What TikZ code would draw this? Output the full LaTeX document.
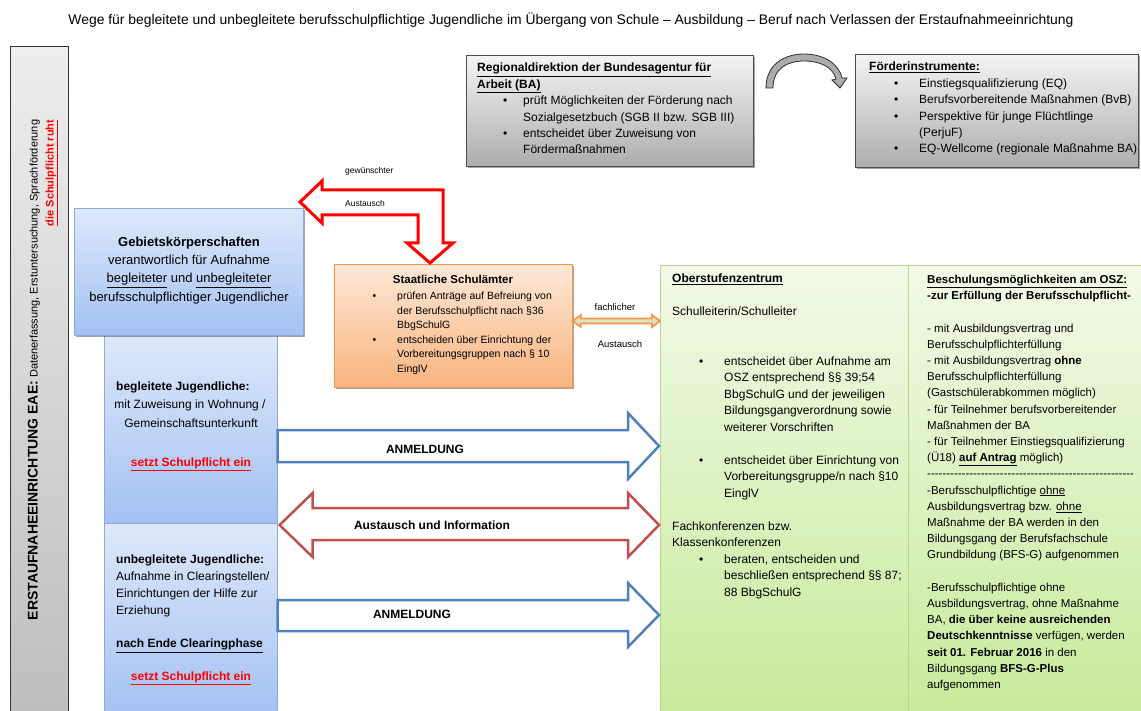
\documentclass[tikz,border=0pt]{standalone}
\usepackage{fontspec}
\setmainfont{Liberation Sans}
\usetikzlibrary{shadows,calc}
\definecolor{bartop}{HTML}{EEEEEE}
\definecolor{barbot}{HTML}{BDBDBD}
\definecolor{graytop}{HTML}{F4F4F4}
\definecolor{graybot}{HTML}{ADADAD}
\definecolor{bluetop}{HTML}{DEE8FA}
\definecolor{bluebot}{HTML}{A3C1F3}
\definecolor{blueline}{HTML}{8DA9D6}
\definecolor{orgtop}{HTML}{FDE8D7}
\definecolor{orgbot}{HTML}{F9B47F}
\definecolor{orgline}{HTML}{F79646}
\definecolor{grntop}{HTML}{F1FAE7}
\definecolor{grnbot}{HTML}{C8EA9A}
\definecolor{grnline}{HTML}{B9D48F}
\definecolor{arrblue}{HTML}{4F81BD}
\definecolor{arrred}{HTML}{C0504D}
\definecolor{brightred}{HTML}{FF0000}
\definecolor{shaftgrn}{HTML}{D7E4BD}
\newcommand\bulit[2][21]{\hspace*{#2pt}\llap{\textbullet\hspace{#1pt}}}
\newcommand\indt[1]{\hspace*{#1pt}}
\newcount\hycnt
\newcommand\hyline[1]{\hycnt=#1\relax\loop\mbox{-}\advance\hycnt by -1\relax\ifnum\hycnt>0 \repeat}
\begin{document}
\begin{tikzpicture}[x=1pt,y=-1pt,
  txt/.style={inner sep=0pt, align=left},
  boxbase/.style={anchor=north west, inner sep=0pt},
  shad/.style={drop shadow={shadow xshift=2pt,shadow yshift=-2pt,opacity=0.35,fill=black}},
  graybox/.style={boxbase, shad, draw=black!70, line width=0.8pt, top color=graytop, bottom color=graybot},
  bluebox/.style={boxbase, draw=blueline, line width=0.6pt, top color=bluetop, bottom color=bluebot},
  orgbox/.style={boxbase, shad, draw=orgline, line width=0.8pt, top color=orgtop, bottom color=orgbot},
  grnbox/.style={boxbase, draw=grnline, line width=0.8pt, top color=grntop, bottom color=grnbot},
  blockblue/.style={draw=arrblue, line width=2.5pt, fill=white, line join=miter},
  blockred/.style={draw=arrred, line width=2.5pt, fill=white, line join=miter},
  bentred/.style={draw=brightred, line width=3pt, fill=white, line join=miter},
  lbl/.style={inner sep=0pt, font=\fontsize{12}{14}\selectfont\bfseries},
  small/.style={inner sep=0pt, font=\fontsize{8.5}{10}\selectfont},
  smallb/.style={inner sep=0pt, font=\fontsize{9.5}{11}\selectfont},
]
\useasboundingbox (0,0) rectangle (1141,711);
\clip (0,0) rectangle (1141,711);
\fill[white] (0,0) rectangle (1141,711);

% title
\node[inner sep=0pt, font=\fontsize{13.9}{16}\selectfont] (title) at (571,20) {Wege für begleitete und unbegleitete berufsschulpflichtige Jugendliche im Übergang von Schule – Ausbildung – Beruf nach Verlassen der Erstaufnahmeeinrichtung};

% left bar
\node[boxbase, draw=black!80, line width=0.8pt, top color=bartop, bottom color=barbot, minimum width=58, minimum height=680] (eae) at (10,46) {};
\node[rotate=90, align=right, inner sep=0pt, font=\fontsize{11}{16}\selectfont] (eaetxt) at (43,370)
  {{\fontsize{14}{16}\selectfont\bfseries ERSTAUFNAHEEINRICHTUNG EAE:} Datenerfassung, Erstuntersuchung, Sprachförderung\\
   {\bfseries\color{brightred}\underline{die Schulpflicht ruht}}};

% top gray boxes
\node[graybox, minimum width=287, minimum height=111] (ba) at (466,55) {};
\node[txt, anchor=north west, font=\fontsize{12}{16.4}\selectfont] (batxt) at (477,63)
  {\textbf{\underline{Regionaldirektion der Bundesagentur für}}\\
   \textbf{\underline{Arbeit (BA)}}\\
   \bulit[16]{46}prüft Möglichkeiten der Förderung nach\\
   \indt{46}Sozialgesetzbuch (SGB II bzw. SGB III)\\
   \bulit[16]{46}entscheidet über Zuweisung von\\
   \indt{46}Fördermaßnahmen};

\node[graybox, minimum width=283, minimum height=113] (foerder) at (855,54) {};
\node[txt, anchor=north west, font=\fontsize{12}{16.4}\selectfont] (foetxt) at (869,62)
  {\textbf{\underline{Förderinstrumente:}}\\
   \bulit{50}Einstiegsqualifizierung (EQ)\\
   \bulit{50}Berufsvorbereitende Maßnahmen (BvB)\\
   \bulit{50}Perspektive für junge Flüchtlinge\\
   \indt{50}(PerjuF)\\
   \bulit{50}EQ-Wellcome (regionale Maßnahme BA)};

% curved gray arrow
\draw[fill=gray!65, draw=gray!35!black, line width=0.8pt, line join=miter]
  (766,88) .. controls (766,64) and (785,54) .. (804,54)
  .. controls (824,54) and (839,64) .. (842,78)
  -- (847,78) -- (840,88) -- (832,80) -- (836,79)
  .. controls (833,67) and (820,61) .. (804,61)
  .. controls (788,61) and (773,68) .. (773,88) -- cycle;

% left column cells
\node[bluebox, minimum width=173, minimum height=188] (beg) at (104,335) {};
\node[bluebox, minimum width=173, minimum height=195] (unbeg) at (104,523) {};

% Gebietskoerperschaften
\node[bluebox, shad, line width=0.8pt, minimum width=229, minimum height=127] (geb) at (74,208) {};
\node[inner sep=0pt, align=center, anchor=north, font=\fontsize{13}{18.3}\selectfont] (gebtxt) at (189,236.5)
  {\textbf{Gebietskörperschaften}\\verantwortlich für Aufnahme\\\underline{begleiteter} und \underline{unbegleiteter}\\berufsschulpflichtiger Jugendlicher};

% column texts
\node[inner sep=0pt, anchor=base west, font=\fontsize{12}{14}\selectfont\bfseries] (begt1) at (116,390.6) {begleitete Jugendliche:};
\node[inner sep=0pt, anchor=base, font=\fontsize{12}{14}\selectfont] (begt2) at (190,408.6) {mit Zuweisung in Wohnung /};
\node[inner sep=0pt, anchor=base, font=\fontsize{12}{14}\selectfont] (begt3) at (191,427.6) {Gemeinschaftsunterkunft};
\node[inner sep=0pt, anchor=base, font=\fontsize{12}{14}\selectfont\bfseries, text=brightred] (begt4) at (191,466.6) {\underline{setzt Schulpflicht ein}};

\node[txt, anchor=north west, font=\fontsize{12}{16.8}\selectfont] (unbegt1) at (116,555)
  {\textbf{unbegleitete Jugendliche:}\\Aufnahme in Clearingstellen/\\Einrichtungen der Hilfe zur\\Erziehung\\[16.8pt]
   \textbf{\underline{nach Ende Clearingphase}}};
\node[inner sep=0pt, anchor=base, font=\fontsize{12}{14}\selectfont\bfseries, text=brightred] (unbegt2) at (191,680.6) {\underline{setzt Schulpflicht ein}};

% Schulaemter
\node[orgbox, minimum width=238, minimum height=123] (schul) at (334,264) {};
\node[inner sep=0pt, anchor=base, font=\fontsize{11.5}{14}\selectfont\bfseries] (schult) at (453,284) {Staatliche Schulämter};
\node[txt, anchor=north west, font=\fontsize{10.5}{14.5}\selectfont] (schulb) at (397,292)
  {\bulit{0}prüfen Anträge auf Befreiung von\\der Berufsschulpflicht nach §36\\BbgSchulG\\
   \bulit{0}entscheiden über Einrichtung der\\Vorbereitungsgruppen nach § 10\\EinglV};

% green boxes
\node[grnbox, minimum width=248, minimum height=455] (osz) at (660,265) {};
\node[grnbox, minimum width=240, minimum height=455] (besch) at (908,265) {};

\node[txt, anchor=north west, font=\fontsize{12}{16.5}\selectfont] (osztxt) at (672,273.8)
  {\textbf{\underline{Oberstufenzentrum}}\\[16.5pt]
   Schulleiterin/Schulleiter\\[33pt]
   \bulit{52}entscheidet über Aufnahme am\\
   \indt{52}OSZ entsprechend §§ 39;54\\
   \indt{52}BbgSchulG und der jeweiligen\\
   \indt{52}Bildungsgangverordnung sowie\\
   \indt{52}weiterer Vorschriften\\[16.5pt]
   \bulit{52}entscheidet über Einrichtung von\\
   \indt{52}Vorbereitungsgruppe/n nach §10\\
   \indt{52}EinglV\\[16.5pt]
   Fachkonferenzen bzw.\\
   Klassenkonferenzen\\
   \bulit{52}beraten, entscheiden und\\
   \indt{52}beschließen entsprechend §§ 87;\\
   \indt{52}88 BbgSchulG};

\node[txt, anchor=north west, font=\fontsize{11.5}{16.2}\selectfont] (beschtxt) at (927,275)
  {\textbf{\underline{Beschulungsmöglichkeiten am OSZ:}}\\
   \textbf{-zur Erfüllung der Berufsschulpflicht-}\\[16.2pt]
   - mit Ausbildungsvertrag und\\
   Berufsschulpflichterfüllung\\
   - mit Ausbildungsvertrag \textbf{ohne}\\
   Berufsschulpflichterfüllung\\
   (Gastschülerabkommen möglich)\\
   - für Teilnehmer berufsvorbereitender\\
   Maßnahmen der BA\\
   - für Teilnehmer Einstiegsqualifizierung\\
   (Ü18) \textbf{\underline{auf Antrag}} möglich)\\
   \hyline{54}\\
   -Berufsschulpflichtige \underline{ohne}\\
   Ausbildungsvertrag bzw. \underline{ohne}\\
   Maßnahme der BA werden in den\\
   Bildungsgang der Berufsfachschule\\
   Grundbildung (BFS-G) aufgenommen\\[16.2pt]
   -Berufsschulpflichtige ohne\\
   Ausbildungsvertrag, ohne Maßnahme\\
   BA, \textbf{die über keine ausreichenden}\\
   \textbf{Deutschkenntnisse} verfügen, werden\\
   \textbf{seit 01. Februar 2016} in den\\
   Bildungsgang \textbf{BFS-G-Plus}\\
   aufgenommen};

% red bent arrow (gewuenschter Austausch)
\draw[bentred] (300,202) -- (322,181) -- (322,190) -- (443,190) -- (443,243) -- (453,243)
  -- (430,263) -- (407,243) -- (418,243) -- (418,215) -- (322,215) -- (322,223) -- cycle;
\node[small, anchor=west] (gw) at (345,171) {gewünschter};
\node[small, anchor=west] (gwa) at (345,203) {Austausch};

% orange double arrow (fachlicher Austausch)
\draw[draw=orgline, fill=shaftgrn, line width=1.8pt, line join=miter]
  let \p1=(schul.east), \p2=(osz.west) in
  (\x1,-321pt) -- (\x1+8pt,-315pt) -- (\x1+8pt,-318.5pt) -- (\x2-8pt,-318.5pt) -- (\x2-8pt,-315pt)
  -- (\x2,-321pt) -- (\x2-8pt,-327pt) -- (\x2-8pt,-323.5pt) -- (\x1+8pt,-323.5pt) -- (\x1+8pt,-327pt) -- cycle;
\node[smallb] (fa1) at (615,307) {fachlicher};
\node[smallb] (fa2) at (620,344) {Austausch};

% blue arrow 1
\draw[blockblue] let \p1=(beg.east), \p2=(osz.west) in
  (\x1,-430pt) -- (\x2-32pt,-430pt) -- (\x2-32pt,-413pt) -- (\x2-1pt,-446pt) -- (\x2-32pt,-479pt)
  -- (\x2-32pt,-462pt) -- (\x1,-462pt) -- cycle;
\node[lbl] (an1) at (425,449) {ANMELDUNG};

% red double arrow
\draw[blockred] let \p1=(beg.south east), \p2=(osz.west) in
  (\x1+2pt,-525pt) -- (\x1+35pt,-493pt) -- (\x1+35pt,-508pt) -- (\x2-32pt,-508pt) -- (\x2-32pt,-493pt)
  -- (\x2-1pt,-525pt) -- (\x2-32pt,-557pt) -- (\x2-32pt,-540pt) -- (\x1+35pt,-540pt) -- (\x1+35pt,-557pt) -- cycle;
\node[lbl] (aui) at (432,525) {Austausch und Information};

% blue arrow 2
\draw[blockblue] let \p1=(unbeg.east), \p2=(osz.west) in
  (\x1,-600pt) -- (\x2-32pt,-600pt) -- (\x2-32pt,-583pt) -- (\x2-1pt,-615pt) -- (\x2-32pt,-647pt)
  -- (\x2-32pt,-631pt) -- (\x1,-631pt) -- cycle;
\node[lbl] (an2) at (412,614) {ANMELDUNG};
\end{tikzpicture}
\end{document}
